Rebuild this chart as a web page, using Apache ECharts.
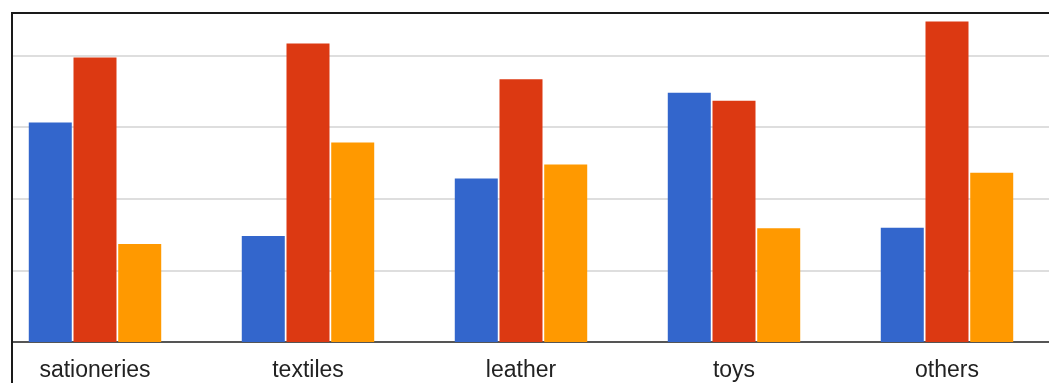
<!DOCTYPE html>
<html>
<head>
<meta charset="utf-8">
<script src="https://cdn.jsdelivr.net/npm/echarts@6/dist/echarts.min.js"></script>
<style>
  html, body { margin: 0; padding: 0; background: #fff; overflow: hidden; width: 1049px; height: 383px; }
  /* canvas is larger than the window so the plot can extend past its edges */
  #chart { position: absolute; left: -20px; top: -30px; width: 1100px; height: 413px; }
</style>
</head>
<body>
<div id="chart"></div>
<script>
// Product categories along the x axis
const categories = ['sationeries', 'textiles', 'leather', 'toys', 'others'];

// Three series per category
const seriesA = [61.3, 29.6, 45.7, 69.6, 31.9];
const seriesB = [79.5, 83.4, 73.4, 67.4, 89.5];
const seriesC = [27.4, 55.7, 49.6, 31.8, 47.3];

const colors = ['#3366cc', '#dc3912', '#ff9900'];

// offset of the canvas relative to the window
const OX = 20, OY = 30;

const chart = echarts.init(document.getElementById('chart'), null, { renderer: 'canvas' });

function bar(name, data, color) {
  return {
    name: name,
    type: 'bar',
    data: data,
    barWidth: 43,
    barGap: '4%',
    itemStyle: { color: color },
    emphasis: { disabled: true }
  };
}

chart.setOption({
  animation: false,
  backgroundColor: '#fff',
  grid: { left: OX - 11.5, width: 1065, top: OY - 16, height: 358, containLabel: false },
  xAxis: {
    type: 'category',
    data: categories,
    axisTick: { show: false },
    axisLine: { lineStyle: { color: '#555', width: 2 } },
    axisLabel: {
      color: '#222',
      fontSize: 23,
      fontFamily: 'Liberation Sans, Arial, sans-serif',
      margin: 17
    }
  },
  yAxis: {
    type: 'value',
    min: 0,
    max: 100,
    interval: 20,
    axisLine: { show: false },
    axisTick: { show: false },
    axisLabel: { show: false },
    splitLine: { lineStyle: { color: '#dedede', width: 2 } }
  },
  series: [
    bar('A', seriesA, colors[0]),
    bar('B', seriesB, colors[1]),
    bar('C', seriesC, colors[2])
  ],
  graphic: [
    // white margin outside the frame
    { type: 'rect', z: 100, shape: { x: 0, y: 0, width: OX + 11, height: 413 }, style: { fill: '#fff' } },
    { type: 'rect', z: 100, shape: { x: 0, y: 0, width: 1100, height: OY + 11 }, style: { fill: '#fff' } },
    // frame lines
    { type: 'line', z: 101, shape: { x1: OX + 12, y1: OY + 12, x2: OX + 12, y2: 413 }, style: { stroke: '#1a1a1a', lineWidth: 2 } },
    { type: 'line', z: 101, shape: { x1: OX + 11, y1: OY + 13, x2: 1100, y2: OY + 13 }, style: { stroke: '#1a1a1a', lineWidth: 2 } }
  ]
});
</script>
</body>
</html>
